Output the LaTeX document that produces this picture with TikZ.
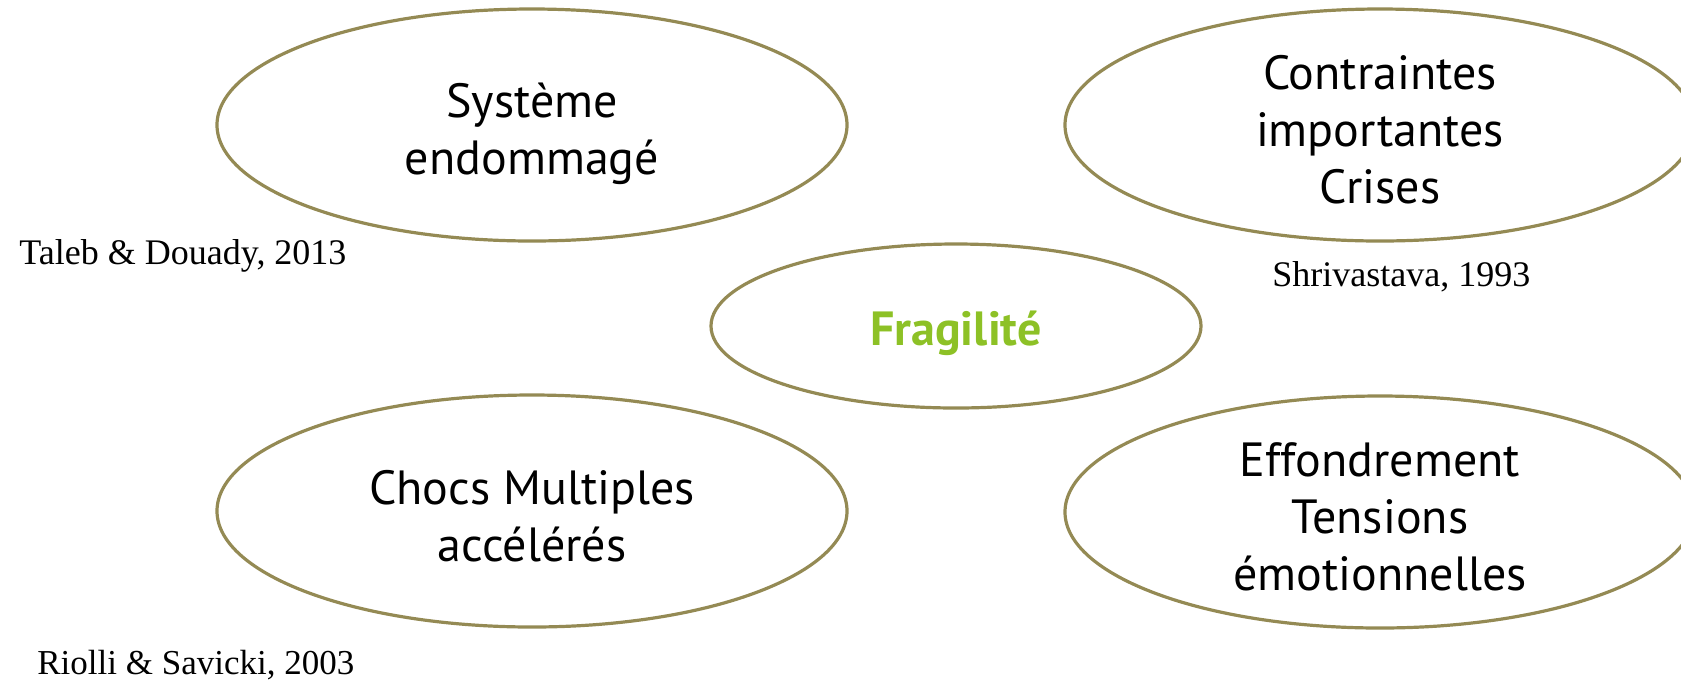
\documentclass[tikz,border=0pt]{standalone}
\usepackage{fontspec}
\setmainfont{Liberation Serif}
\newfontfamily\blobfont{PT Sans}
\usetikzlibrary{shapes.geometric,positioning}
\definecolor{rimolive}{RGB}{148,138,84}
\definecolor{fraggreen}{RGB}{141,193,38}

\begin{document}
\begin{tikzpicture}[x=0.5pt,y=-0.5pt,
    blob/.style={draw=rimolive,line width=1.6pt,ellipse,inner sep=0pt,
      minimum width=315pt,minimum height=116pt},
    blobtext/.style={align=center,yshift=-2.5pt,font=\blobfont\fontsize{24}{28.5}\selectfont},
    cite/.style={font=\fontsize{18}{21}\selectfont,inner sep=0pt,anchor=west}]
    \clip (0,0) rectangle (1681,682);

    \node[blob,label={[blobtext,yshift=-2pt]center:Système\\endommagé}] (damaged) at (532,125) {};
    \node[blob,label={[blobtext]center:Contraintes\\importantes\\Crises}] (stress) at (1380,125) {};
    \node[blob,minimum width=245pt,minimum height=82pt,
      label={[blobtext,yshift=-1pt,font=\blobfont\bfseries\fontsize{24}{28.5}\selectfont,text=fraggreen]center:Fragilité}] (frag) at (956,326) {};
    \node[blob,label={[blobtext]center:Chocs Multiples\\accélérés}] (shocks) at (532,511) {};
    \node[blob,label={[blobtext]center:Effondrement\\Tensions\\émotionnelles}] (collapse) at (1380,512) {};

    \node[cite] (taleb)  at (19,256)  {Taleb \& Douady, 2013};
    \node[cite] (shriv)  at (1272,277) {Shrivastava, 1993};
    \node[cite,font=\fontsize{17.5}{21}\selectfont] (riolli) at (37,665)  {Riolli \& Savicki, 2003};
\end{tikzpicture}
\end{document}
